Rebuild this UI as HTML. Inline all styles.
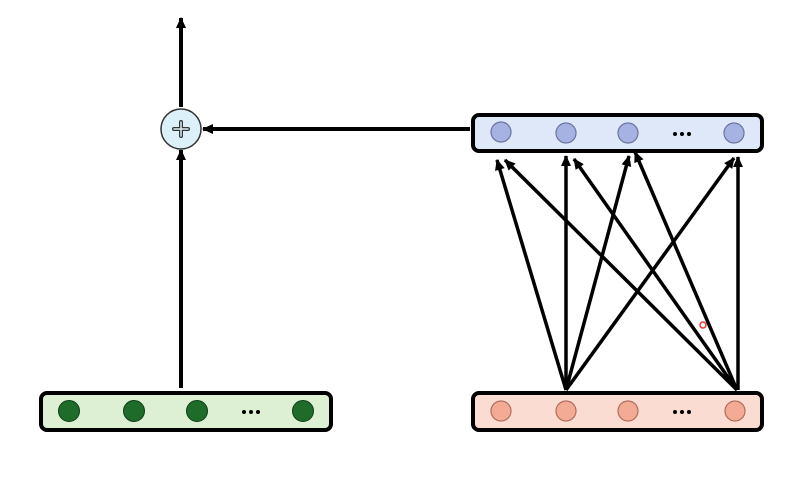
<!DOCTYPE html>
<html><head><meta charset="utf-8"><style>
html,body{margin:0;padding:0;background:#fff;width:811px;height:485px;overflow:hidden}
</style></head><body>
<svg width="811" height="485" viewBox="0 0 811 485" xmlns="http://www.w3.org/2000/svg">
<defs>
<marker id="a" markerWidth="12" markerHeight="12" refX="10" refY="6" orient="auto" markerUnits="userSpaceOnUse">
<path d="M0,1 L11,6 L0,11 Z" fill="#000"/>
</marker>
</defs>
<!-- boxes -->
<rect x="473" y="115" width="289" height="36" rx="6" fill="#dfe8f8" stroke="#000" stroke-width="4"/>
<rect x="41" y="393" width="290" height="37" rx="6" fill="#ddf0d4" stroke="#000" stroke-width="4"/>
<rect x="473" y="393" width="289" height="37" rx="6" fill="#fbdcd2" stroke="#000" stroke-width="4"/>
<!-- top circles -->
<g fill="#a6b2e2" stroke="#6a73a0" stroke-width="1.2">
<circle cx="501" cy="132" r="10"/><circle cx="566" cy="133" r="10"/><circle cx="628" cy="133" r="10"/><circle cx="734" cy="133" r="10"/>
</g>
<g fill="#000"><circle cx="675" cy="134" r="2"/><circle cx="682" cy="134" r="2"/><circle cx="689" cy="134" r="2"/></g>
<!-- green -->
<g fill="#1e6b2a" stroke="#0f3d16" stroke-width="1">
<circle cx="69" cy="411" r="10.5"/><circle cx="134" cy="411" r="10.5"/><circle cx="197" cy="411" r="10.5"/><circle cx="303" cy="411" r="10.5"/>
</g>
<g fill="#000"><circle cx="244" cy="412" r="2"/><circle cx="251" cy="412" r="2"/><circle cx="258" cy="412" r="2"/></g>
<!-- salmon -->
<g fill="#f4ab96" stroke="#b06d5c" stroke-width="1.2">
<circle cx="501" cy="411" r="10"/><circle cx="566" cy="411" r="10"/><circle cx="628" cy="411" r="10"/><circle cx="735" cy="411" r="10"/>
</g>
<g fill="#000"><circle cx="675" cy="412" r="2"/><circle cx="682" cy="412" r="2"/><circle cx="689" cy="412" r="2"/></g>
<!-- plus node -->
<circle cx="181" cy="129" r="20" fill="#dcf0fa" stroke="#333" stroke-width="1.5"/>
<path d="M181,122 V136 M174,129 H188" stroke="#333" stroke-width="4" stroke-linecap="round"/>
<path d="M181,122 V136 M174,129 H188" stroke="#dcf0fa" stroke-width="1.5" stroke-linecap="round"/>
<!-- left arrows -->
<g stroke="#000" stroke-width="4" fill="none" marker-end="url(#a)">
<line x1="181" y1="388" x2="181" y2="150"/>
<line x1="181" y1="107" x2="181" y2="18"/>
<line x1="470" y1="129" x2="203" y2="129"/>
</g>
<!-- fan arrows -->
<g stroke="#000" stroke-width="3.5" fill="none" marker-end="url(#a)">
<line x1="566" y1="390" x2="497" y2="160"/>
<line x1="566" y1="390" x2="566" y2="156"/>
<line x1="566" y1="390" x2="629" y2="156"/>
<line x1="566" y1="390" x2="734" y2="158"/>
<line x1="737" y1="390" x2="505" y2="160"/>
<line x1="737" y1="390" x2="574" y2="159"/>
<line x1="737" y1="390" x2="635" y2="152"/>
<line x1="738" y1="390" x2="738" y2="157"/>
</g>
<circle cx="703" cy="325" r="3" fill="none" stroke="#e33" stroke-width="1.5"/>
</svg>
</body></html>
